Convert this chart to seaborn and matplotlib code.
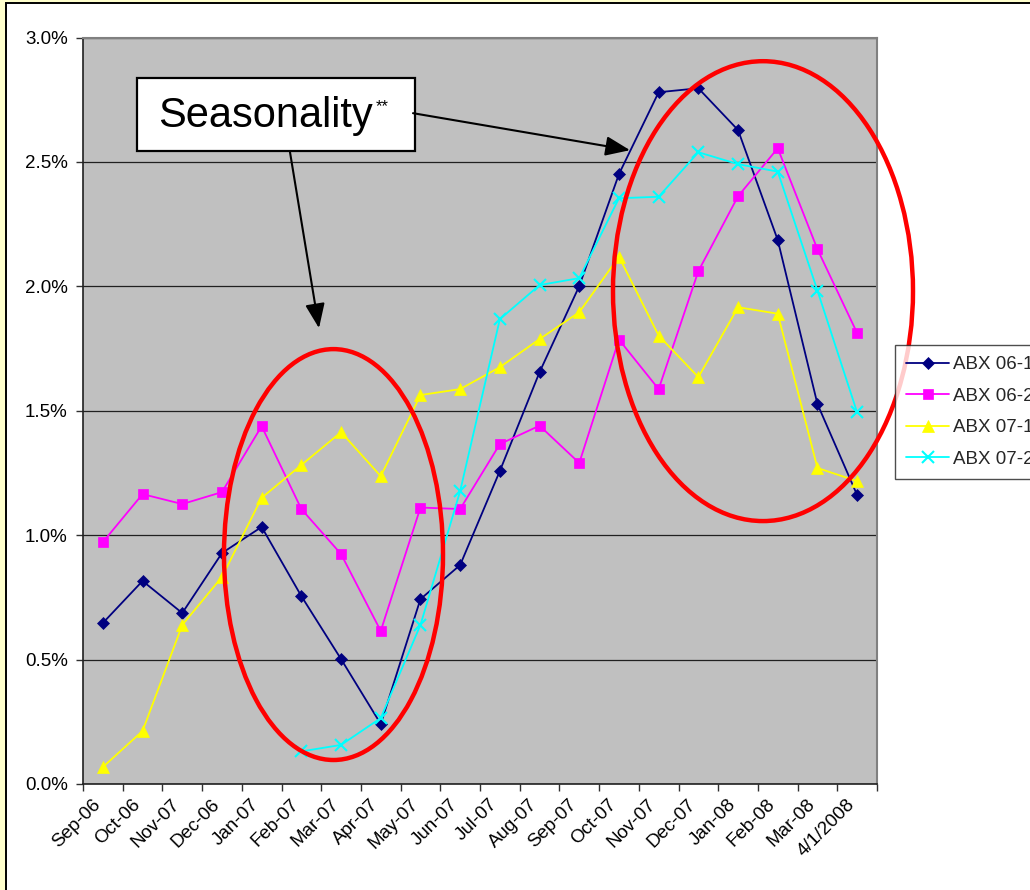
import numpy as np
import pandas as pd
import matplotlib
matplotlib.use("Agg")
import matplotlib.pyplot as plt
import matplotlib.transforms as mtransforms
from matplotlib.patches import Ellipse, Rectangle, FancyArrowPatch
from matplotlib.lines import Line2D
from matplotlib.ticker import FuncFormatter, FixedLocator
import seaborn as sns

# Monthly loss severities (percent) for four ABX vintages
months = ["Sep-06", "Oct-06", "Nov-07", "Dec-06", "Jan-07", "Feb-07", "Mar-07",
          "Apr-07", "May-07", "Jun-07", "Jul-07", "Aug-07", "Sep-07", "Oct-07",
          "Nov-07", "Dec-07", "Jan-08", "Feb-08", "Mar-08", "4/1/2008"]

abx_06_1 = [0.647, 0.816, 0.687, 0.928, 1.033, 0.755, 0.502, 0.241, 0.743, 0.880,
            1.258, 1.655, 2.001, 2.451, 2.780, 2.796, 2.628, 2.186, 1.527, 1.161]
abx_06_2 = [0.972, 1.165, 1.125, 1.173, 1.438, 1.105, 0.924, 0.615, 1.111, 1.105,
            1.366, 1.440, 1.290, 1.786, 1.587, 2.061, 2.362, 2.555, 2.149, 1.812]
abx_07_1 = [0.068, 0.213, 0.639, 0.832, 1.150, 1.282, 1.414, 1.237, 1.563, 1.587,
            1.675, 1.788, 1.896, 2.119, 1.802, 1.635, 1.916, 1.890, 1.270, 1.217]
abx_07_2 = [np.nan, np.nan, np.nan, np.nan, np.nan, 0.131, 0.157, 0.265, 0.639, 1.177,
            1.868, 2.005, 2.033, 2.354, 2.360, 2.539, 2.491, 2.461, 1.983, 1.493]

series_names = ["ABX 06-1", "ABX 06-2", "ABX 07-1", "ABX 07-2"]
series_values = [abx_06_1, abx_06_2, abx_07_1, abx_07_2]
series_colors = ["#000080", "#FF00FF", "#FFFF00", "#00FFFF"]
series_markers = ["D", "s", "^", "x"]
series_msize = [6.5, 6.5, 8, 8]

callout_text = "Seasonality"
callout_sup = "**"

sns.set_theme(style="white")
plt.rcParams["font.family"] = ["Liberation Sans", "DejaVu Sans"]

W, H = 1030, 890
fig = plt.figure(figsize=(W / 100, H / 100), dpi=100)
fig.patch.set_facecolor("#FFFFCC")

# white chart area with a black frame
fig.add_artist(Rectangle((6 / W, -0.2), 1.2, 1.2 - 3 / H, transform=fig.transFigure,
                         facecolor="white", edgecolor="black", linewidth=1.4, zorder=0))

ax = fig.add_axes([83 / W, 1 - 784 / H, (877 - 83) / W, (784 - 37.5) / H])
ax.set_facecolor("#C0C0C0")

x = np.arange(len(months))
for name, vals, col, mk, ms in zip(series_names, series_values, series_colors,
                                   series_markers, series_msize):
    df = pd.DataFrame({"x": x, "y": vals}).dropna()
    sns.lineplot(data=df, x="x", y="y", ax=ax, color=col, marker=mk,
                 markersize=ms, markeredgecolor=col,
                 markeredgewidth=1.5 if mk == "x" else 0.5,
                 linewidth=1.3, zorder=3, label=name, legend=False)

ax.set_xlim(-0.5, len(months) - 0.5)
ax.set_ylim(0, 3.0)
ax.set_xlabel("")
ax.set_ylabel("")

ax.yaxis.set_major_locator(FixedLocator(np.arange(0, 3.01, 0.5)))
ax.yaxis.set_major_formatter(FuncFormatter(lambda v, p: f"{v:.1f}%"))
ax.grid(axis="y", color="#202020", linewidth=0.9)
ax.grid(axis="x", visible=False)
ax.set_axisbelow(True)

ax.set_xticks(x)
ax.set_xticklabels(months)
ax.set_xticks(np.arange(-0.5, len(months)), minor=True)
ax.tick_params(axis="x", which="major", length=0, pad=13, labelsize=13.5,
               labelcolor="black")
ax.tick_params(axis="x", which="minor", length=5, width=1, color="#303030",
               direction="out", bottom=True)
ax.tick_params(axis="y", which="major", length=5, width=1, color="#303030",
               direction="out", left=True, labelsize=13.5, labelcolor="black", pad=6)
shift = mtransforms.ScaledTranslation(-5 / 100, 0, fig.dpi_scale_trans)
for lab in ax.get_xticklabels():
    lab.set_rotation(45)
    lab.set_ha("right")
    lab.set_va("center")
    lab.set_rotation_mode("anchor")
    lab.set_transform(lab.get_transform() + shift)

for side in ["left", "bottom"]:
    ax.spines[side].set_color("#202020")
    ax.spines[side].set_linewidth(1.2)
for side in ["top", "right"]:
    ax.spines[side].set_color("#808080")
    ax.spines[side].set_linewidth(1.5)

# legend (runs past the right edge of the chart area)
handles = [Line2D([0], [0], color=c, marker=m, markersize=s, markeredgecolor=c,
                  markeredgewidth=1.5 if m == "x" else 0.5, linewidth=1.3)
           for c, m, s in zip(series_colors, series_markers, series_msize)]
leg = fig.legend(handles, series_names, loc="upper left",
                 bbox_to_anchor=(895 / W, 1 - 345 / H), frameon=True, fancybox=False,
                 fontsize=13.5, handlelength=2.3, handletextpad=0.2,
                 labelspacing=0.76, borderpad=0.6, borderaxespad=0)
leg.get_frame().set_edgecolor("#202020")
leg.get_frame().set_linewidth(1.0)
leg.get_frame().set_facecolor("white")


# callout helpers in data coordinates (category index, percent)
def cx(px):
    return (px - 83) / 39.7 - 0.5


def cy(py):
    return (784 - py) / 248.9


# red ellipses around the seasonal regions
for (x0, x1, y0, y1) in [(224, 443, 349, 760), (613, 913, 61, 521)]:
    e = Ellipse(((cx(x0) + cx(x1)) / 2, (cy(y0) + cy(y1)) / 2),
                width=cx(x1) - cx(x0), height=cy(y0) - cy(y1),
                facecolor="none", edgecolor="#FF0000", linewidth=3.2,
                zorder=5, clip_on=False)
    ax.add_patch(e)

# callout box
box = Rectangle((cx(137), cy(151)), cx(415) - cx(137), cy(78) - cy(151),
                facecolor="white", edgecolor="black", linewidth=1.6, zorder=6)
ax.add_patch(box)
label = ax.text(cx(158), cy(116), callout_text, fontsize=30, ha="left", va="center",
                color="black", zorder=7)
ax.annotate(callout_sup, xy=(1, 1), xycoords=label, xytext=(2, -2),
            textcoords="offset points", fontsize=12, ha="left", va="top",
            color="black", zorder=7)

# arrows from the callout box
for (sx, sy, tx, ty) in [(413, 113, 630, 150), (290, 152, 319, 328)]:
    arr = FancyArrowPatch((cx(sx), cy(sy)), (cx(tx), cy(ty)),
                          arrowstyle="-|>,head_length=15,head_width=6",
                          mutation_scale=1, color="black", linewidth=1.5,
                          shrinkA=0, shrinkB=0, zorder=6)
    ax.add_patch(arr)

fig.savefig("out.png", dpi=100, facecolor=fig.get_facecolor())
